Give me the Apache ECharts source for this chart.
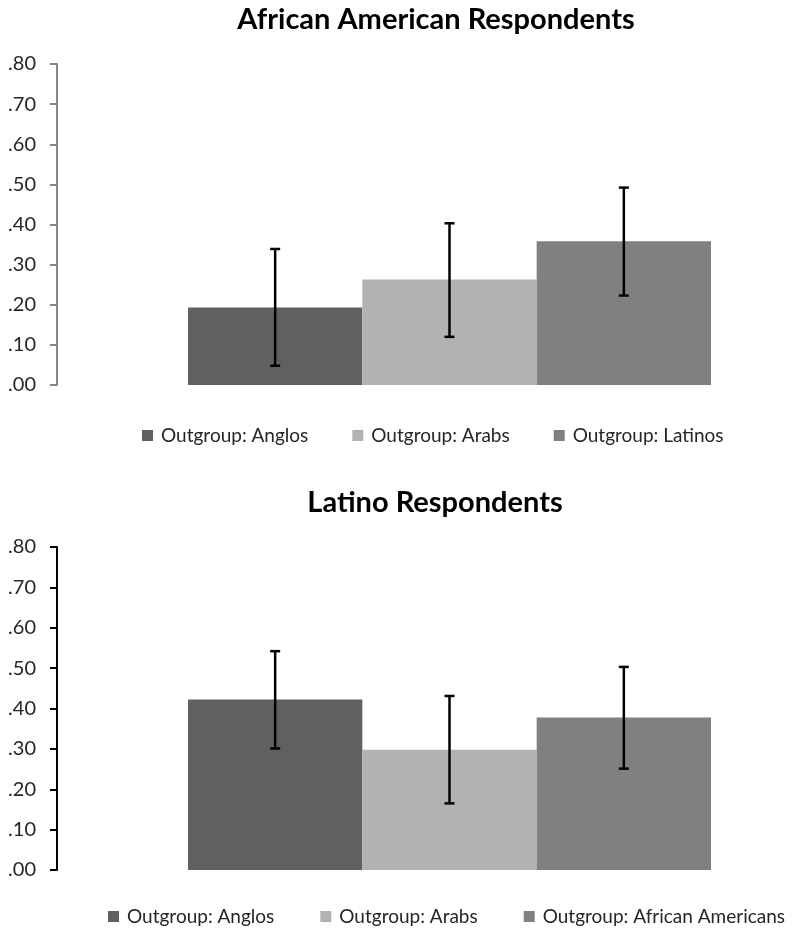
<!DOCTYPE html>
<html>
<head>
<meta charset="utf-8">
<script src="https://cdn.jsdelivr.net/npm/echarts@6/dist/echarts.min.js"></script>
<style>
  html, body { margin: 0; padding: 0; background: #ffffff; }
  #chart { width: 808px; height: 929px; }
</style>
</head>
<body>
<div id="chart"></div>
<script>
// Titles of the two panels
const panelTitles = ['African American Respondents', 'Latino Respondents'];

// Legend / series names per panel
const topGroups = ['Outgroup: Anglos', 'Outgroup: Arabs', 'Outgroup: Latinos'];
const bottomGroups = ['Outgroup: Anglos', 'Outgroup: Arabs', 'Outgroup: African Americans'];

// Mean values with lower / upper error bounds
const topMeans = [0.193, 0.263, 0.358];
const topLow = [0.048, 0.120, 0.223];
const topHigh = [0.339, 0.403, 0.492];

const bottomMeans = [0.422, 0.298, 0.378];
const bottomLow = [0.301, 0.165, 0.251];
const bottomHigh = [0.542, 0.431, 0.503];

// Y-axis tick labels (0 to .80 in steps of .10)
const yTickLabels = ['.00', '.10', '.20', '.30', '.40', '.50', '.60', '.70', '.80'];

const barColors = ['#606060', '#b2b2b2', '#808080'];
const fontFamily = 'Lato, "Open Sans", sans-serif';

function yAxisFor(gridIndex, lineColor) {
  return {
    type: 'value',
    gridIndex: gridIndex,
    min: 0,
    max: 0.8,
    interval: 0.1,
    offset: 131,
    axisLine: { show: true, lineStyle: { color: lineColor, width: 2 } },
    axisTick: { show: true, length: 7, lineStyle: { color: lineColor, width: 2 } },
    splitLine: { show: false },
    axisLabel: {
      margin: 21,
      color: '#262626',
      fontSize: 20,
      fontFamily: fontFamily,
      formatter: function (v) { return yTickLabels[Math.round(v * 10)]; }
    }
  };
}

function xAxisFor(gridIndex) {
  return {
    type: 'category',
    gridIndex: gridIndex,
    data: [''],
    axisLine: { show: false },
    axisTick: { show: false },
    axisLabel: { show: false },
    splitLine: { show: false }
  };
}

function barSeries(names, means, axisIndex) {
  return names.map(function (name, i) {
    return {
      type: 'bar',
      name: name,
      xAxisIndex: axisIndex,
      yAxisIndex: axisIndex,
      barGap: '0%',
      barCategoryGap: '0%',
      itemStyle: { color: barColors[i] },
      data: [means[i]],
      animation: false
    };
  });
}

function errorSeries(low, high, axisIndex) {
  return {
    type: 'custom',
    xAxisIndex: axisIndex,
    yAxisIndex: axisIndex,
    z: 10,
    silent: true,
    animation: false,
    encode: { x: 0, y: [1, 2] },
    data: low.map(function (lo, i) { return [0, lo, high[i], i]; }),
    renderItem: function (params, api) {
      const idx = api.value(3);
      const band = api.size([1, 0])[0];
      const lowPt = api.coord([0, api.value(1)]);
      const highPt = api.coord([0, api.value(2)]);
      const x = lowPt[0] + (idx - 1) * band / 3;
      const cap = 5;
      const style = { stroke: '#000000', lineWidth: 2.5 };
      return {
        type: 'group',
        children: [
          { type: 'line', shape: { x1: x, y1: lowPt[1], x2: x, y2: highPt[1] }, style: style },
          { type: 'line', shape: { x1: x - cap, y1: lowPt[1], x2: x + cap, y2: lowPt[1] }, style: style },
          { type: 'line', shape: { x1: x - cap, y1: highPt[1], x2: x + cap, y2: highPt[1] }, style: style }
        ]
      };
    }
  };
}

const legendText = { fontSize: 19, color: '#262626', fontFamily: fontFamily, padding: [0, 0, 0, 3] };
const titleText = { fontSize: 29, fontWeight: 'bold', color: '#000000', fontFamily: fontFamily };

const option = {
  backgroundColor: '#ffffff',
  animation: false,
  title: [
    { text: panelTitles[0], left: 431, top: 0, textAlign: 'center', textStyle: titleText },
    { text: panelTitles[1], left: 430, top: 483, textAlign: 'center', textStyle: titleText }
  ],
  legend: [
    {
      data: topGroups, left: 137, top: 421, width: 680, icon: 'rect',
      itemWidth: 11, itemHeight: 11, itemGap: 44,
      textStyle: legendText, selectedMode: false
    },
    {
      data: bottomGroups.map(function (n) { return { name: n }; }),
      left: 103, top: 902, width: 720, icon: 'rect',
      itemWidth: 11, itemHeight: 11, itemGap: 46,
      textStyle: legendText, selectedMode: false
    }
  ],
  grid: [
    { left: 188, width: 523, top: 64, height: 321 },
    { left: 188, width: 523, top: 547, height: 323 }
  ],
  xAxis: [xAxisFor(0), xAxisFor(1)],
  yAxis: [yAxisFor(0, '#868686'), yAxisFor(1, '#000000')],
  series: []
    .concat(barSeries(topGroups, topMeans, 0))
    .concat([errorSeries(topLow, topHigh, 0)])
    .concat(barSeries(bottomGroups, bottomMeans, 1))
    .concat([errorSeries(bottomLow, bottomHigh, 1)])
};

const chart = echarts.init(document.getElementById('chart'), null, { renderer: 'canvas' });
chart.setOption(option);
</script>
</body>
</html>
